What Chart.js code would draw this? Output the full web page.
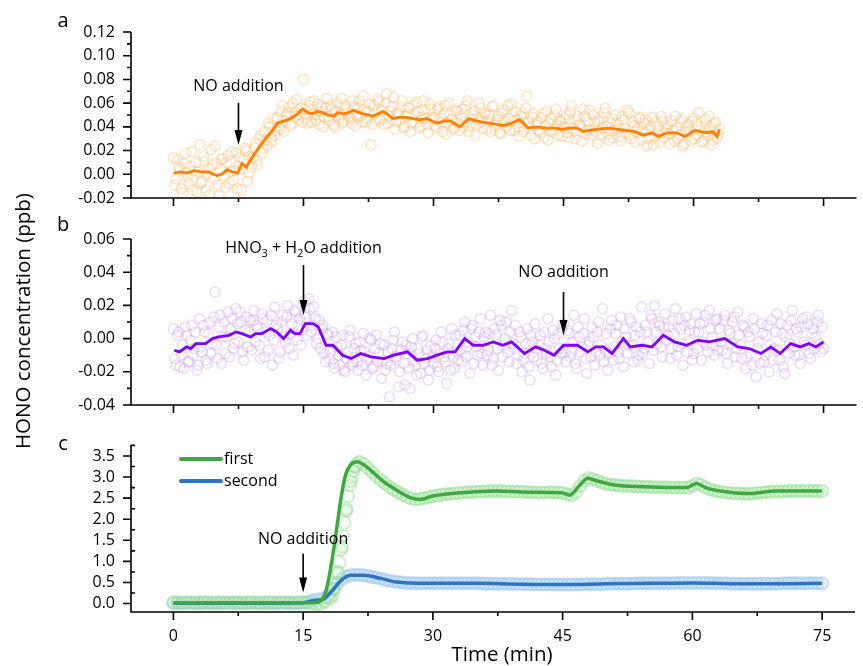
<!DOCTYPE html>
<html>
<head>
<meta charset="utf-8">
<script src="https://cdn.jsdelivr.net/npm/chart.js@4.4.1/dist/chart.umd.min.js"></script>
<style>
  body { margin: 0; background: #fff; overflow: hidden; font-family: "Open Sans", sans-serif; }
  #wrap { position: relative; width: 863px; height: 666px; }
  .panel { position: absolute; left: 0; width: 863px; }
  #ytitle { position: absolute; left: 22px; top: 321px; transform: translate(-50%, -50%) rotate(-90deg);
            font-size: 20.5px; white-space: nowrap; color: #000; }
</style>
</head>
<body>
<div id="wrap">
  <div class="panel" style="top:0;height:212px"><canvas id="ca"></canvas></div>
  <div class="panel" style="top:212px;height:207px"><canvas id="cb"></canvas></div>
  <div class="panel" style="top:419px;height:247px"><canvas id="cc"></canvas></div>
  <div id="ytitle">HONO concentration (ppb)</div>
</div>
<script>
// axes
const xMajor = [0, 15, 30, 45, 60, 75];
const xMinor = [7.5, 22.5, 37.5, 52.5, 67.5];
const aTicks = [-0.02, 0, 0.02, 0.04, 0.06, 0.08, 0.10, 0.12];
const bTicks = [-0.04, -0.02, 0, 0.02, 0.04, 0.06];
const cTicks = [0, 0.5, 1.0, 1.5, 2.0, 2.5, 3.0, 3.5];

// panel a - smoothed line
const aLineT = [0, 0.8, 1.6, 2.4, 3.2, 4.0, 4.6, 5.0, 5.6, 6.2, 6.8, 7.4, 7.9, 8.4, 8.8, 9.4, 10.0, 10.5, 11.3, 12.0,
  12.8, 13.5, 14.3, 14.9, 15.5, 16.0, 16.6, 17.2, 17.8, 18.5, 19.0, 19.6, 20.2, 20.8, 21.4, 21.9, 22.5, 23.0, 23.6, 24.2,
  24.8, 25.3, 26.0, 26.8, 27.6, 28.4, 29.2, 30.4, 31.2, 31.9, 32.6, 33.1, 33.6, 34.1, 34.9, 35.7, 36.6, 37.3, 38.0, 39.0,
  39.9, 40.4, 40.9, 41.8, 43.0, 44.0, 44.9, 45.7, 46.6, 47.3, 47.9, 49.0, 50.1, 51.1, 52.1, 53.2, 54.2, 55.2, 55.9, 57.0,
  58.0, 59.0, 60.1, 60.8, 61.6, 62.2, 62.7, 63.0];
const aLineV = [0.001, 0.002, 0.001, 0.003, 0.002, 0.002, 0.000, -0.001, 0.000, 0.004, 0.002, 0.001, 0.009, 0.006, 0.011, 0.018, 0.024, 0.029, 0.036, 0.043,
  0.045, 0.047, 0.051, 0.055, 0.052, 0.051, 0.053, 0.052, 0.050, 0.049, 0.052, 0.051, 0.052, 0.054, 0.052, 0.051, 0.050, 0.049, 0.051, 0.053,
  0.050, 0.047, 0.048, 0.048, 0.047, 0.046, 0.047, 0.043, 0.045, 0.045, 0.042, 0.040, 0.044, 0.047, 0.045, 0.044, 0.043, 0.042, 0.041, 0.043,
  0.046, 0.043, 0.039, 0.040, 0.039, 0.039, 0.038, 0.039, 0.039, 0.036, 0.037, 0.038, 0.039, 0.038, 0.037, 0.036, 0.033, 0.035, 0.032, 0.035,
  0.035, 0.032, 0.037, 0.036, 0.035, 0.036, 0.032, 0.038];
// panel a - raw points, one every 0.3 min from 0 and a second run from 0.15
const aRawStep = 0.3;
const aRawV = [
  0.014, -0.004, 0.006, -0.012, 0.009, 0.001, -0.008, 0.019, 0.003, -0.015,
  0.025, -0.006, 0.011, 0.000, -0.017, 0.008, 0.024, -0.009, 0.004, 0.013,
  -0.011, 0.016, 0.002, -0.005, 0.018, 0.007, -0.013, 0.012, 0.020, 0.001,
  0.006, 0.022, 0.012, 0.030, 0.018, 0.036, 0.024, 0.040, 0.028, 0.033,
  0.048, 0.038, 0.058, 0.045, 0.052, 0.041, 0.060, 0.049, 0.046, 0.056,
  0.080, 0.047, 0.058, 0.044, 0.062, 0.051, 0.042, 0.057, 0.048, 0.064,
  0.045, 0.055, 0.040, 0.060, 0.050, 0.043, 0.058, 0.052, 0.047, 0.062,
  0.041, 0.056, 0.049, 0.066, 0.044, 0.053, 0.025, 0.058, 0.046, 0.061,
  0.054, 0.042, 0.068, 0.049, 0.057, 0.038, 0.052, 0.045, 0.062, 0.040,
  0.050, 0.036, 0.058, 0.044, 0.053, 0.041, 0.062, 0.047, 0.035, 0.055,
  0.048, 0.039, 0.057, 0.043, 0.051, 0.034, 0.060, 0.046, 0.040, 0.053,
  0.037, 0.055, 0.044, 0.062, 0.041, 0.050, 0.033, 0.047, 0.056, 0.039,
  0.052, 0.045, 0.036, 0.058, 0.043, 0.049, 0.034, 0.054, 0.040, 0.047,
  0.059, 0.037, 0.046, 0.032, 0.052, 0.043, 0.066, 0.039, 0.048, 0.030,
  0.044, 0.035, 0.051, 0.041, 0.029, 0.047, 0.038, 0.055, 0.033, 0.045,
  0.040, 0.050, 0.031, 0.058, 0.036, 0.046, 0.042, 0.028, 0.049, 0.037,
  0.054, 0.033, 0.044, 0.026, 0.048, 0.039, 0.056, 0.034, 0.043, 0.031,
  0.050, 0.038, 0.028, 0.046, 0.035, 0.052, 0.030, 0.041, 0.036, 0.047,
  0.029, 0.043, 0.024, 0.038, 0.048, 0.031, 0.040, 0.027, 0.045, 0.035,
  0.041, 0.026, 0.037, 0.049, 0.030, 0.044, 0.024, 0.036, 0.042, 0.028,
  0.047, 0.033, 0.052, 0.027, 0.040, 0.036, 0.049, 0.025, 0.043, 0.031,
  0.038];
const aRawV2 = [
  -0.009, 0.012, 0.004, -0.016, 0.018, -0.002, 0.007, -0.013, 0.010, 0.002,
  -0.007, 0.015, -0.014, 0.005, 0.021, -0.004, 0.009, -0.018, 0.013, -0.001,
  0.010, -0.008, 0.019, 0.003, -0.012, 0.014, 0.005, 0.022, -0.006, 0.015,
  0.014, 0.026, 0.008, 0.033, 0.022, 0.029, 0.043, 0.031, 0.047, 0.037,
  0.041, 0.053, 0.036, 0.050, 0.057, 0.043, 0.052, 0.063, 0.050, 0.044,
  0.055, 0.043, 0.061, 0.050, 0.046, 0.059, 0.053, 0.040, 0.056, 0.049,
  0.058, 0.042, 0.053, 0.047, 0.064, 0.045, 0.055, 0.049, 0.043, 0.057,
  0.050, 0.062, 0.044, 0.054, 0.047, 0.059, 0.042, 0.052, 0.063, 0.045,
  0.047, 0.060, 0.043, 0.053, 0.065, 0.044, 0.051, 0.057, 0.039, 0.049,
  0.056, 0.043, 0.051, 0.061, 0.039, 0.048, 0.054, 0.042, 0.059, 0.046,
  0.041, 0.055, 0.047, 0.036, 0.058, 0.044, 0.050, 0.038, 0.054, 0.043,
  0.049, 0.040, 0.058, 0.036, 0.047, 0.053, 0.042, 0.060, 0.045, 0.051,
  0.038, 0.050, 0.057, 0.041, 0.046, 0.035, 0.052, 0.044, 0.058, 0.037,
  0.045, 0.053, 0.040, 0.049, 0.036, 0.056, 0.044, 0.033, 0.051, 0.042,
  0.037, 0.048, 0.031, 0.053, 0.043, 0.036, 0.050, 0.041, 0.046, 0.032,
  0.047, 0.035, 0.053, 0.039, 0.030, 0.049, 0.041, 0.055, 0.034, 0.044,
  0.038, 0.050, 0.036, 0.045, 0.033, 0.052, 0.040, 0.029, 0.047, 0.037,
  0.043, 0.032, 0.049, 0.039, 0.054, 0.033, 0.044, 0.027, 0.039, 0.048,
  0.036, 0.046, 0.030, 0.041, 0.025, 0.044, 0.034, 0.049, 0.031, 0.039,
  0.034, 0.045, 0.028, 0.039, 0.033, 0.047, 0.026, 0.040, 0.036, 0.045,
  0.030, 0.042, 0.037, 0.028, 0.046, 0.033, 0.040, 0.029, 0.044, 0.034];

// panel b - smoothed line
const bLineT = [0.1, 0.7, 1.5, 2.0, 2.6, 3.7, 4.5, 5.2, 6.4, 7.2, 7.9, 8.9, 9.5, 10.2, 11.2, 11.9, 12.7, 13.5, 14.0, 14.6,
  15.2, 16.1, 16.7, 17.6, 18.4, 19.5, 20.5, 21.6, 22.8, 24.3, 25.4, 27.0, 28.1, 29.3, 30.4, 31.6, 32.5, 33.6, 34.6, 35.7,
  36.9, 38.0, 39.0, 40.5, 41.8, 42.8, 43.9, 45.0, 46.6, 47.8, 48.7, 49.6, 50.6, 51.9, 52.7, 54.0, 55.2, 56.5, 57.8, 59.2,
  60.5, 61.8, 63.6, 65.1, 66.4, 67.8, 68.9, 70.0, 71.2, 72.3, 73.3, 74.1, 75.0];
const bLineV = [-0.007, -0.008, -0.005, -0.006, -0.003, -0.003, 0.000, 0.001, 0.002, 0.004, 0.003, 0.001, 0.003, 0.003, 0.006, 0.004, 0.000, 0.005, 0.003, 0.003,
  0.009, 0.009, 0.007, -0.004, -0.004, -0.010, -0.012, -0.009, -0.011, -0.012, -0.010, -0.008, -0.013, -0.012, -0.010, -0.008, -0.008, 0.000, -0.004, -0.004,
  -0.002, -0.004, -0.002, -0.009, -0.005, -0.007, -0.010, -0.004, -0.004, -0.008, -0.005, -0.005, -0.009, 0.000, -0.005, -0.004, -0.005, 0.002, -0.002, -0.004,
  -0.001, -0.002, 0.000, -0.005, -0.006, -0.009, -0.005, -0.009, -0.003, -0.005, -0.003, -0.005, -0.002];
// panel b - raw points, one every 0.3 min from 0 and a second run from 0.15
const bRawStep = 0.3;
const bRawV = [
  0.006, -0.016, 0.004, -0.010, -0.018, 0.002, -0.014, 0.008, -0.006, -0.019,
  0.012, -0.008, 0.004, -0.015, 0.010, -0.003, 0.028, -0.012, 0.014, 0.001,
  -0.009, 0.016, 0.006, -0.006, 0.018, -0.002, 0.010, -0.013, 0.013, 0.004,
  -0.007, 0.017, 0.008, -0.004, 0.015, -0.011, 0.011, 0.002, -0.016, 0.019,
  0.006, -0.008, 0.014, -0.002, 0.020, 0.003, -0.010, 0.016, 0.008, -0.004,
  0.022, 0.013, 0.024, 0.004, 0.019, -0.003, 0.011, 0.006, -0.009, 0.003,
  -0.012, 0.004, -0.018, -0.005, -0.016, 0.002, -0.020, -0.008, 0.005, -0.014,
  -0.003, -0.019, -0.007, 0.003, -0.022, -0.011, -0.001, -0.017, 0.002, -0.009,
  -0.024, -0.004, -0.015, -0.035, -0.006, 0.004, -0.013, -0.020, -0.002, -0.028,
  -0.009, -0.030, 0.000, -0.016, -0.006, -0.021, 0.002, -0.012, -0.025, -0.004,
  -0.015, -0.001, -0.020, 0.004, -0.011, -0.027, -0.003, 0.006, -0.018, -0.008,
  0.002, -0.014, 0.010, -0.005, -0.021, 0.008, 0.001, -0.010, 0.012, -0.016,
  0.004, -0.007, 0.014, -0.012, 0.002, -0.019, 0.008, -0.004, 0.010, -0.014,
  0.017, -0.006, -0.015, 0.004, -0.020, -0.009, 0.006, -0.025, -0.002, 0.009,
  -0.013, 0.002, -0.018, -0.006, 0.012, -0.011, 0.005, -0.022, 0.003, -0.009,
  0.009, -0.014, 0.003, -0.008, 0.014, -0.018, 0.001, -0.005, 0.012, -0.021,
  -0.002, 0.007, -0.016, 0.004, -0.010, 0.018, -0.007, -0.019, 0.006, -0.013,
  0.003, -0.008, 0.013, -0.017, 0.001, -0.004, 0.010, -0.014, 0.007, -0.010,
  0.019, -0.006, 0.004, -0.015, 0.012, 0.020, -0.003, 0.008, -0.011, 0.015,
  0.002, -0.012, 0.011, 0.018, -0.005, 0.006, -0.016, 0.013, -0.002, 0.009,
  -0.009, 0.015, 0.004, -0.013, 0.010, -0.004, 0.017, 0.001, -0.010, 0.012,
  0.006, -0.007, 0.014, -0.015, 0.003, 0.010, -0.011, 0.016, -0.004, 0.008,
  -0.018, 0.004, -0.009, 0.012, -0.023, -0.002, 0.009, -0.014, 0.002, -0.020,
  0.011, -0.006, 0.015, -0.013, 0.003, -0.021, 0.008, -0.003, 0.017, -0.010,
  0.004, -0.015, 0.012, -0.004, 0.009, -0.012, 0.006, 0.001, 0.014, -0.008,
  -0.006];
const bRawV2 = [
  -0.012, 0.002, -0.017, -0.004, 0.007, -0.014, -0.001, -0.010, 0.004, -0.016,
  -0.005, 0.008, -0.013, 0.003, -0.009, 0.013, -0.004, 0.007, -0.015, 0.010,
  0.001, -0.011, 0.012, -0.003, 0.009, 0.016, -0.008, 0.005, -0.005, 0.011,
  0.011, -0.002, 0.006, -0.012, 0.012, 0.004, -0.007, 0.014, -0.001, 0.008,
  -0.012, 0.010, 0.001, 0.013, -0.006, 0.009, 0.017, -0.001, 0.012, 0.005,
  0.015, 0.002, 0.018, 0.008, 0.012, 0.000, -0.006, 0.008, -0.014, 0.002,
  -0.008, -0.015, 0.001, -0.010, -0.004, -0.019, -0.012, 0.001, -0.016, -0.006,
  -0.014, -0.002, -0.016, -0.008, -0.013, 0.000, -0.018, -0.006, -0.014, -0.003,
  -0.013, -0.019, -0.008, -0.016, -0.001, -0.011, -0.029, -0.007, -0.015, -0.004,
  -0.018, -0.005, -0.013, -0.022, -0.009, 0.001, -0.015, -0.007, -0.019, -0.011,
  -0.006, -0.017, -0.009, -0.002, -0.014, -0.006, -0.019, -0.011, 0.002, -0.013,
  -0.007, 0.005, -0.011, -0.002, 0.006, -0.015, -0.005, 0.004, -0.009, 0.001,
  -0.010, 0.003, -0.016, 0.006, -0.006, 0.011, -0.011, 0.000, -0.008, 0.004,
  -0.003, 0.008, -0.010, 0.001, -0.013, -0.003, -0.017, 0.002, -0.011, -0.006,
  -0.004, -0.015, 0.004, -0.009, -0.002, -0.017, 0.000, -0.013, -0.006, 0.006,
  -0.008, 0.005, -0.011, -0.002, -0.015, 0.007, -0.008, 0.003, -0.012, -0.004,
  -0.011, 0.001, -0.008, 0.010, -0.004, -0.014, 0.003, -0.009, 0.011, -0.005,
  0.008, -0.012, -0.002, 0.006, -0.009, 0.012, -0.004, 0.002, -0.013, 0.004,
  -0.009, 0.008, -0.002, 0.014, -0.007, 0.004, 0.010, -0.005, 0.007, -0.001,
  0.007, -0.006, 0.003, -0.010, 0.012, -0.003, 0.008, -0.008, 0.005, -0.013,
  0.004, -0.006, 0.009, -0.002, 0.014, -0.008, 0.006, -0.004, 0.011, -0.007,
  -0.002, 0.011, -0.009, 0.005, -0.003, 0.013, -0.006, 0.002, -0.012, 0.007,
  -0.011, 0.001, -0.016, 0.006, -0.006, -0.015, 0.003, -0.010, 0.008, -0.004,
  -0.013, 0.004, -0.007, 0.009, -0.017, 0.001, -0.009, 0.011, -0.005, 0.006,
  -0.010, 0.007, -0.002, 0.013, -0.009, 0.003, -0.006, 0.010, -0.003, 0.007];

// panel c - smoothed lines
const firstT = [0, 5, 10, 15, 16, 16.7, 17.6, 18.2, 18.8, 19.4, 19.9, 20.5, 21.3, 22.0, 23.2, 24.3, 25.8, 27.3, 28.5, 30.0,
  33.4, 37.3, 41.0, 44.9, 45.8, 47.0, 47.9, 49.1, 51.0, 54.4, 59.3, 60.5, 61.5, 63.2, 66.6, 69.6, 75];
const firstV = [0.02, 0.02, 0.02, 0.02, 0.02, 0.03, 0.27, 0.86, 1.66, 2.53, 3.05, 3.29, 3.36, 3.29, 3.09, 2.89, 2.69, 2.52, 2.47, 2.55,
  2.63, 2.67, 2.64, 2.63, 2.57, 2.81, 2.97, 2.90, 2.81, 2.77, 2.75, 2.85, 2.75, 2.67, 2.61, 2.67, 2.67];
const secondT = [0, 5, 10, 15, 15.5, 16.1, 17.3, 18.2, 19.4, 20.5, 22.0, 23.9, 25.8, 29.2, 35, 40, 45, 50, 55, 60, 65, 70, 75];
const secondV = [0.01, 0.01, 0.01, 0.02, 0.04, 0.07, 0.10, 0.27, 0.55, 0.67, 0.67, 0.60, 0.51, 0.48, 0.48, 0.46, 0.45, 0.47, 0.48, 0.49, 0.47, 0.47, 0.48];
// panel c - raw points, one every 0.5 min from 0
const cRawStep = 0.5;
const firstRawV = [
  0.03, 0.03, 0.02, 0.03, 0.03, 0.02, 0.03, 0.03, 0.03, 0.02,
  0.03, 0.03, 0.02, 0.03, 0.03, 0.03, 0.02, 0.03, 0.03, 0.03,
  0.02, 0.03, 0.03, 0.03, 0.02, 0.03, 0.03, 0.03, 0.02, 0.03,
  0.03, 0.02,
  0.00, -0.02, -0.01, 0.05, 0.15, 0.35, 0.75, 1.35, 2.20, 2.90,
  3.25, 3.36, 3.31, 3.21, 3.11, 3.01, 2.92, 2.84, 2.76, 2.70,
  2.64, 2.58, 2.53, 2.49, 2.47, 2.48, 2.50, 2.52, 2.54, 2.56,
  2.58, 2.59, 2.60, 2.61, 2.62, 2.63, 2.64, 2.64, 2.65, 2.66,
  2.66, 2.67, 2.67, 2.67, 2.67, 2.66, 2.66, 2.66, 2.65, 2.65,
  2.64, 2.64, 2.63, 2.63, 2.63, 2.64, 2.64, 2.63, 2.62, 2.59,
  2.57, 2.63, 2.78, 2.91, 2.97, 2.95, 2.91, 2.87, 2.84, 2.82,
  2.81, 2.80, 2.79, 2.79, 2.78, 2.78, 2.77, 2.77, 2.77, 2.76,
  2.76, 2.76, 2.76, 2.75, 2.75, 2.75, 2.75, 2.75, 2.79, 2.85,
  2.81, 2.75, 2.71, 2.68, 2.66, 2.64, 2.63, 2.62, 2.61, 2.61,
  2.60, 2.60, 2.61, 2.62, 2.63, 2.64, 2.65, 2.66, 2.66, 2.66,
  2.67, 2.67, 2.67, 2.67, 2.67, 2.67, 2.67, 2.67, 2.67];
// extra raw points of "first" during the fast rise
const firstRiseT = [18.2, 18.4, 18.6, 18.8, 19.0, 19.2, 19.4, 19.6, 19.8, 20.0, 20.2, 20.4, 20.6, 20.8, 21.0, 21.2];
const firstRiseV = [0.12, 0.20, 0.32, 0.50, 0.72, 0.98, 1.28, 1.60, 1.92, 2.25, 2.55, 2.80, 3.00, 3.14, 3.24, 3.31];
const secondRawV = [
  0.01, 0.01, 0.00, 0.01, 0.01, 0.01, 0.00, 0.01, 0.01, 0.01,
  0.01, 0.00, 0.01, 0.01, 0.01, 0.01, 0.00, 0.01, 0.01, 0.01,
  0.01, 0.01, 0.00, 0.01, 0.01, 0.01, 0.01, 0.00, 0.01, 0.01,
  0.02,
  0.04, 0.07, 0.09, 0.10, 0.13, 0.22, 0.35, 0.48, 0.58, 0.64,
  0.67, 0.68, 0.68, 0.67, 0.65, 0.63, 0.61, 0.59, 0.56, 0.54,
  0.52, 0.51, 0.50, 0.49, 0.49, 0.48,
  0.48, 0.48, 0.48, 0.48, 0.48, 0.48, 0.48, 0.48, 0.48, 0.48,
  0.48, 0.48, 0.48, 0.48, 0.48, 0.47, 0.47, 0.47, 0.47, 0.47,
  0.47, 0.47, 0.46, 0.46, 0.46, 0.46, 0.46, 0.46, 0.45, 0.45,
  0.45, 0.45, 0.45, 0.45, 0.45, 0.45, 0.45, 0.45, 0.46, 0.46,
  0.46, 0.46, 0.46, 0.47, 0.47, 0.47, 0.47, 0.47, 0.47, 0.47,
  0.48, 0.48, 0.48, 0.48, 0.48, 0.48, 0.48, 0.48, 0.48, 0.49,
  0.49, 0.49, 0.49, 0.49, 0.49, 0.49, 0.49, 0.49, 0.48, 0.48,
  0.48, 0.48, 0.47, 0.47, 0.47, 0.47, 0.47, 0.47, 0.47, 0.47,
  0.47, 0.47, 0.47, 0.47, 0.48, 0.48, 0.48, 0.48, 0.48, 0.48,
  0.48, 0.48, 0.48, 0.48];

Chart.defaults.font.family = '"Open Sans", sans-serif';
Chart.defaults.font.size = 16;
Chart.defaults.color = '#000';

function pairs(ts, vs) {
  return ts.map((t, i) => ({ x: t, y: vs[i] }));
}
function raw(start, step, vs) {
  return vs.map((v, i) => ({ x: +(start + i * step).toFixed(2), y: v }));
}
function mids(ticks) {
  const out = [];
  for (let i = 0; i < ticks.length - 1; i++) out.push((ticks[i] + ticks[i + 1]) / 2);
  return out;
}

// per-panel extras drawn by the decor plugin
const extras = {
  ca: { letter: 'a', letterY: 21, yMajor: aTicks, yMinor: mids(aTicks), minorIn: false,
        notes: [{ x: 7.5, ty: 0.0745, y0: 0.0602, y1: 0.0247, parts: [['NO addition']] }] },
  cb: { letter: 'b', letterY: 13, yMajor: bTicks, yMinor: mids(bTicks), minorIn: false,
        notes: [{ x: 15, ty: 0.0546, y0: 0.0443, y1: 0.0142, parts: [['HNO'], ['3', 1], [' + H'], ['2', 1], ['O addition']] },
                { x: 45, ty: 0.0401, y0: 0.0281, y1: 0.0022, parts: [['NO addition']] }] },
  cc: { letter: 'c', letterY: 25, yMajor: cTicks, yMinor: mids(cTicks).concat([3.75]), minorIn: true,
        notes: [{ x: 15, ty: 1.52, y0: 1.19, y1: 0.26, parts: [['NO addition']] }],
        legend: [['first', '#40a840'], ['second', '#2f74bd']], xTitle: 'Time (min)' }
};

function drawParts(ctx, parts, cx, cy) {
  let w = 0;
  parts.forEach(p => { ctx.font = (p[1] ? '11px' : '16px') + ' "Open Sans"'; w += ctx.measureText(p[0]).width; });
  let xx = cx - w / 2;
  ctx.textAlign = 'left';
  ctx.textBaseline = 'middle';
  parts.forEach(p => {
    ctx.font = (p[1] ? '11px' : '16px') + ' "Open Sans"';
    ctx.fillText(p[0], xx, p[1] ? cy + 6 : cy);
    xx += ctx.measureText(p[0]).width;
  });
}

const decor = {
  id: 'decor',
  afterDraw(chart) {
    const e = extras[chart.canvas.id];
    const { ctx, chartArea: ca, scales: { x, y } } = chart;
    ctx.save();
    ctx.strokeStyle = '#000';
    ctx.fillStyle = '#000';
    ctx.lineWidth = 1.6;
    ctx.beginPath();
    ctx.moveTo(ca.left, ca.top);
    ctx.lineTo(ca.left, ca.bottom);
    ctx.lineTo(ca.right, ca.bottom);
    ctx.stroke();

    ctx.beginPath();
    xMajor.forEach(v => { const p = x.getPixelForValue(v); ctx.moveTo(p, ca.bottom); ctx.lineTo(p, ca.bottom + 8); });
    xMinor.forEach(v => { const p = x.getPixelForValue(v); ctx.moveTo(p, ca.bottom); ctx.lineTo(p, ca.bottom + 4); });
    e.yMajor.forEach(v => { const p = y.getPixelForValue(v); ctx.moveTo(ca.left, p); ctx.lineTo(ca.left - 8, p); });
    e.yMinor.forEach(v => { const p = y.getPixelForValue(v); ctx.moveTo(ca.left, p); ctx.lineTo(ca.left + (e.minorIn ? 4 : -4), p); });
    ctx.stroke();

    ctx.font = '20px "Open Sans"';
    ctx.textAlign = 'center';
    ctx.textBaseline = 'middle';
    ctx.fillText(e.letter, 63, e.letterY);

    e.notes.forEach(n => {
      const px = x.getPixelForValue(n.x);
      const p0 = y.getPixelForValue(n.y0), p1 = y.getPixelForValue(n.y1);
      drawParts(ctx, n.parts, px, y.getPixelForValue(n.ty));
      ctx.lineWidth = 1.6;
      ctx.beginPath();
      ctx.moveTo(px, p0);
      ctx.lineTo(px, p1 - 12);
      ctx.stroke();
      ctx.beginPath();
      ctx.moveTo(px - 4, p1 - 15);
      ctx.lineTo(px + 4, p1 - 15);
      ctx.lineTo(px, p1);
      ctx.closePath();
      ctx.fill();
    });

    if (e.legend) {
      e.legend.forEach((l, i) => {
        const ly = 40 + i * 22;
        ctx.strokeStyle = l[1];
        ctx.lineWidth = 4;
        ctx.lineCap = 'round';
        ctx.beginPath();
        ctx.moveTo(181, ly);
        ctx.lineTo(221, ly);
        ctx.stroke();
        ctx.fillStyle = '#000';
        ctx.font = '16px "Open Sans"';
        ctx.textAlign = 'left';
        ctx.fillText(l[0], 224, ly);
      });
    }
    if (e.xTitle) {
      ctx.fillStyle = '#000';
      ctx.font = '20.5px "Open Sans"';
      ctx.textAlign = 'center';
      ctx.textBaseline = 'middle';
      ctx.fillText(e.xTitle, 502, 236);
    }
    ctx.restore();
  }
};

function xScale(showLabels, h) {
  return {
    type: 'linear', min: -4.9, max: 78.8,
    grid: { display: false, drawTicks: false }, border: { display: false },
    afterBuildTicks: s => { s.ticks = xMajor.map(v => ({ value: v })); },
    afterFit: s => { s.height = h; },
    ticks: { display: showLabels, padding: 15, maxRotation: 0, autoSkip: false }
  };
}
function yScale(min, max, ticks, dec) {
  return {
    type: 'linear', min: min, max: max,
    grid: { display: false, drawTicks: true, tickLength: 14 }, border: { display: false },
    afterBuildTicks: s => { s.ticks = ticks.map(v => ({ value: v })); },
    afterFit: s => { s.width = 131; },
    ticks: { padding: 2, callback: v => v.toFixed(dec) }
  };
}
function lineSet(data, color, width, smooth) {
  return { data: data, showLine: true, borderColor: color, borderWidth: width, pointRadius: 0,
           cubicInterpolationMode: smooth ? 'monotone' : 'default', tension: 0 };
}
function rawSet(data, color, r, bw, fill) {
  return { data: data, showLine: false, pointRadius: r, pointBorderWidth: bw,
           pointBorderColor: color, pointBackgroundColor: fill || 'rgba(0,0,0,0)' };
}
function options(padTop, xs, ys) {
  return {
    responsive: true, maintainAspectRatio: false, animation: false,
    layout: { padding: { top: padTop, left: 0, right: 0, bottom: 0 } },
    plugins: { legend: { display: false }, tooltip: { enabled: false } },
    scales: { x: xs, y: ys }
  };
}

new Chart(document.getElementById('ca'), {
  type: 'scatter',
  data: { datasets: [
    lineSet(pairs(aLineT, aLineV), '#ff8000', 2.8, false),
    rawSet(raw(0, aRawStep, aRawV), 'rgba(253,190,120,0.42)', 5, 1.5),
    rawSet(raw(0.15, aRawStep, aRawV2), 'rgba(253,190,120,0.42)', 5, 1.5)
  ] },
  options: options(32, xScale(false, 14), yScale(-0.02, 0.12, aTicks, 2)),
  plugins: [decor]
});

new Chart(document.getElementById('cb'), {
  type: 'scatter',
  data: { datasets: [
    lineSet(pairs(bLineT, bLineV), '#8000ff', 2.8, false),
    rawSet(raw(0, bRawStep, bRawV), 'rgba(205,160,235,0.38)', 5, 1.5),
    rawSet(raw(0.15, bRawStep, bRawV2), 'rgba(205,160,235,0.38)', 5, 1.5)
  ] },
  options: options(27, xScale(false, 14), yScale(-0.04, 0.06, bTicks, 2)),
  plugins: [decor]
});

new Chart(document.getElementById('cc'), {
  type: 'scatter',
  data: { datasets: [
    lineSet(pairs(firstT, firstV), '#40a840', 3.5, true),
    lineSet(pairs(secondT, secondV), '#2f74bd', 3.5, true),
    rawSet(raw(0, cRawStep, firstRawV), 'rgba(150,222,150,0.5)', 6, 2, 'rgba(200,240,200,0.3)'),
    rawSet(pairs(firstRiseT, firstRiseV), 'rgba(150,222,150,0.45)', 6, 2),
    rawSet(raw(0, cRawStep, secondRawV), 'rgba(150,195,240,0.5)', 6, 2, 'rgba(200,225,250,0.3)')
  ] },
  options: options(26, xScale(true, 54), yScale(-0.2, 3.76, cTicks, 1)),
  plugins: [decor]
});
</script>
</body>
</html>
